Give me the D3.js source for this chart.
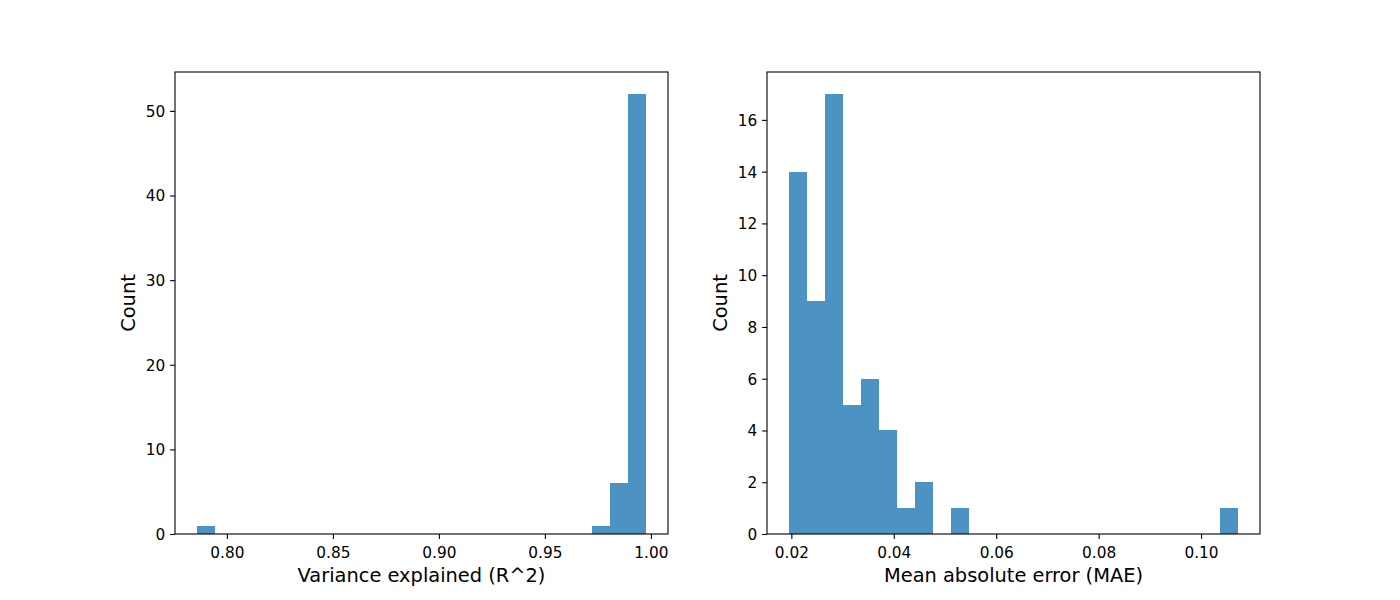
<!DOCTYPE html>
<html>
<head>
<meta charset="utf-8">
<script src="https://cdn.jsdelivr.net/npm/d3@7"></script>
<style>
  html, body { margin: 0; padding: 0; background: #fff; }
  svg { display: block; }
  .tick text { font-family: "DejaVu Sans", sans-serif; font-size: 15.3px; fill: #000; }
  .lbl { font-family: "DejaVu Sans", sans-serif; font-size: 19.4px; fill: #000; }
</style>
</head>
<body>
<svg id="chart" width="1400" height="600"></svg>
<script>
// ---- Data ----
// Left histogram: variance explained (R^2), 25 equal bins
const r2Range = [0.7861, 0.9975];
const r2Counts = [1, 0, 0, 0, 0, 0, 0, 0, 0, 0, 0, 0, 0, 0, 0, 0, 0, 0, 0, 0, 0, 0, 1, 6, 52];
const r2XTicks = [0.80, 0.85, 0.90, 0.95, 1.00];
const r2YTicks = [0, 10, 20, 30, 40, 50];

// Right histogram: mean absolute error (MAE), 25 equal bins
const maeRange = [0.01962, 0.10714];
const maeCounts = [14, 9, 17, 5, 6, 4, 1, 2, 0, 1, 0, 0, 0, 0, 0, 0, 0, 0, 0, 0, 0, 0, 0, 0, 1];
const maeXTicks = [0.02, 0.04, 0.06, 0.08, 0.10];
const maeYTicks = [0, 2, 4, 6, 8, 10, 12, 14, 16];

const xLabels = ["Variance explained (R^2)", "Mean absolute error (MAE)"];
const yLabel = "Count";

const barColor = "rgba(31,119,180,0.8)";
const svg = d3.select("#chart");

function drawHist(cfg) {
  const { left, right, top, bottom, range, counts, xTicks, yTicks, xFmt, yFmt, xLabel } = cfg;
  const n = counts.length;
  const w = (range[1] - range[0]) / n;
  const bins = counts.map((c, i) => ({ x0: range[0] + i * w, x1: range[0] + (i + 1) * w, c }));
  const pad = (range[1] - range[0]) * 0.05;
  const x = d3.scaleLinear().domain([range[0] - pad, range[1] + pad]).range([left, right]);
  const yMax = d3.max(counts) * 1.05;
  const y = d3.scaleLinear().domain([0, yMax]).range([bottom, top]);

  const g = svg.append("g");
  g.selectAll("rect.bar").data(bins.filter(b => b.c > 0)).join("rect")
    .attr("class", "bar")
    .attr("x", d => x(d.x0))
    .attr("width", d => x(d.x1) - x(d.x0))
    .attr("y", d => y(d.c))
    .attr("height", d => y(0) - y(d.c))
    .attr("fill", barColor)
    .attr("shape-rendering", "crispEdges");

  const xa = g.append("g").attr("transform", `translate(0,${bottom})`)
    .call(d3.axisBottom(x).tickValues(xTicks).tickFormat(xFmt).tickSize(4.9).tickPadding(4.9));
  const ya = g.append("g").attr("transform", `translate(${left},0)`)
    .call(d3.axisLeft(y).tickValues(yTicks).tickFormat(yFmt).tickSize(4.9).tickPadding(4.9));
  [xa, ya].forEach(a => {
    a.select(".domain").remove();
    a.selectAll(".tick line").attr("stroke", "#000").attr("stroke-width", 1.1);
  });
  xa.selectAll(".tick text").attr("dy", "0.95em");
  ya.selectAll(".tick text").attr("dy", "0.35em");

  g.append("rect").attr("x", left).attr("y", top)
    .attr("width", right - left).attr("height", bottom - top)
    .attr("fill", "none").attr("stroke", "#000").attr("stroke-width", 1.1);

  g.append("text").attr("class", "lbl")
    .attr("x", (left + right) / 2).attr("y", 582)
    .attr("text-anchor", "middle").text(xLabel);
  g.append("text").attr("class", "lbl")
    .attr("transform", `translate(${left - 40},${(top + bottom) / 2}) rotate(-90)`)
    .attr("text-anchor", "middle").text(yLabel);
}

drawHist({ left: 175, right: 668, top: 72, bottom: 534, range: r2Range, counts: r2Counts,
  xTicks: r2XTicks, yTicks: r2YTicks, xFmt: d3.format(".2f"), yFmt: d3.format("d"), xLabel: xLabels[0] });
drawHist({ left: 767, right: 1260, top: 72, bottom: 534, range: maeRange, counts: maeCounts,
  xTicks: maeXTicks, yTicks: maeYTicks, xFmt: d3.format(".2f"), yFmt: d3.format("d"), xLabel: xLabels[1] });
</script>
</body>
</html>
